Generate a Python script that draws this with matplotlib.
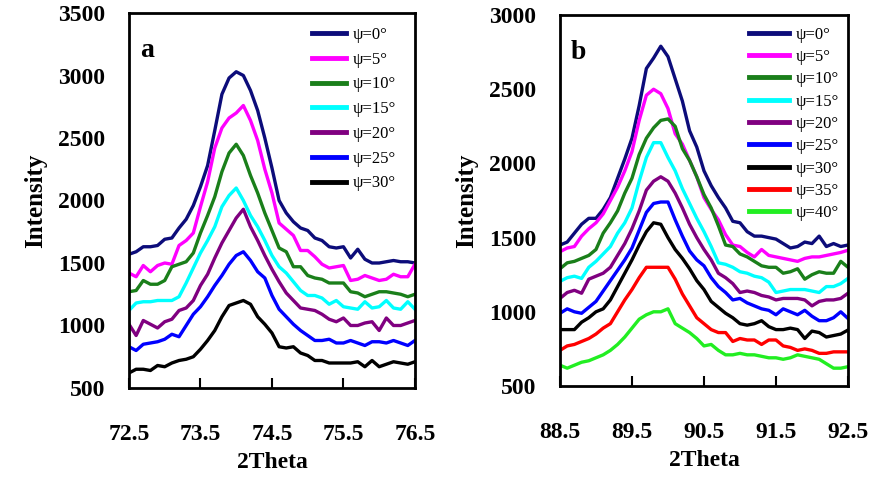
import matplotlib
matplotlib.use("Agg")
import matplotlib.pyplot as plt
import numpy as np

# ---- panel a : 2Theta 72.5 - 76.5 ----
two_theta_a = np.linspace(72.5, 76.5, 41)
a_psi0 = [1570, 1590, 1630, 1630, 1640, 1690, 1700, 1780, 1850, 1960, 2110, 2280, 2560, 2850,
          2980, 3030, 3000, 2880, 2720, 2500, 2260, 2000, 1900, 1830, 1780, 1760, 1700, 1680,
          1630, 1620, 1630, 1540, 1610, 1530, 1500, 1500, 1510, 1520, 1510, 1510, 1500]
a_psi5 = [1420, 1390, 1480, 1430, 1480, 1500, 1490, 1640, 1680, 1740, 1950, 2150, 2420, 2580,
          2660, 2700, 2760, 2640, 2480, 2250, 2060, 1820, 1770, 1720, 1600, 1600, 1550, 1490,
          1460, 1470, 1480, 1360, 1370, 1400, 1380, 1360, 1370, 1410, 1390, 1390, 1490]
a_psi10 = [1270, 1280, 1360, 1330, 1330, 1360, 1470, 1490, 1510, 1580, 1740, 1880, 2030, 2230,
           2380, 2450, 2360, 2200, 2060, 1900, 1760, 1620, 1590, 1470, 1470, 1400, 1380, 1370,
           1340, 1340, 1340, 1270, 1260, 1230, 1250, 1270, 1270, 1260, 1250, 1230, 1250]
a_psi15 = [1120, 1180, 1190, 1190, 1200, 1200, 1200, 1230, 1340, 1460, 1580, 1680, 1790, 1950,
           2040, 2100, 2000, 1880, 1790, 1680, 1560, 1470, 1420, 1350, 1280, 1240, 1240, 1220,
           1170, 1200, 1150, 1140, 1130, 1190, 1140, 1150, 1200, 1140, 1130, 1190, 1130]
a_psi20 = [1010, 920, 1040, 1010, 980, 1030, 1050, 1120, 1140, 1200, 1320, 1410, 1540, 1660,
           1760, 1860, 1930, 1790, 1680, 1560, 1450, 1350, 1260, 1200, 1140, 1130, 1120, 1090,
           1050, 1030, 1060, 1000, 1000, 1020, 1030, 960, 1060, 1000, 1000, 1020, 1040]
a_psi25 = [830, 800, 850, 860, 870, 890, 930, 910, 1000, 1090, 1150, 1230, 1320, 1400,
           1490, 1560, 1590, 1520, 1430, 1380, 1240, 1130, 1070, 1010, 960, 920, 880, 880,
           890, 860, 860, 880, 860, 840, 870, 870, 860, 880, 860, 840, 880]
a_psi30 = [620, 650, 650, 640, 680, 670, 700, 720, 730, 750, 810, 880, 960, 1070,
           1160, 1180, 1200, 1170, 1070, 1010, 940, 830, 820, 830, 780, 760, 720, 720,
           700, 700, 700, 700, 710, 670, 720, 670, 690, 710, 700, 690, 710]

# ---- panel b : 2Theta 88.5 - 92.5 ----
two_theta_b = np.linspace(88.5, 92.5, 41)
b_psi0 = [1450, 1470, 1530, 1590, 1630, 1630, 1690, 1770, 1900, 2030, 2170, 2390, 2640, 2710,
          2790, 2720, 2570, 2420, 2220, 2110, 1950, 1850, 1770, 1700, 1610, 1600, 1540, 1510,
          1510, 1500, 1490, 1460, 1430, 1440, 1470, 1460, 1510, 1440, 1460, 1440, 1450]
b_psi5 = [1405, 1430, 1440, 1510, 1560, 1600, 1660, 1750, 1840, 1950, 2080, 2290, 2460, 2500,
          2470, 2370, 2200, 2130, 2020, 1910, 1770, 1690, 1620, 1520, 1450, 1440, 1400, 1370,
          1420, 1380, 1370, 1360, 1350, 1340, 1360, 1370, 1370, 1380, 1390, 1400, 1415]
b_psi10 = [1290, 1330, 1340, 1360, 1380, 1420, 1530, 1600, 1680, 1800, 1900, 2060, 2170, 2240,
           2290, 2300, 2250, 2100, 2020, 1910, 1790, 1700, 1580, 1450, 1440, 1390, 1370, 1340,
           1310, 1300, 1300, 1260, 1270, 1290, 1220, 1250, 1270, 1260, 1260, 1340, 1300]
b_psi15 = [1205, 1230, 1240, 1225, 1300, 1340, 1390, 1440, 1530, 1600, 1700, 1880, 2040, 2140,
           2140, 2040, 1950, 1830, 1730, 1630, 1540, 1440, 1330, 1320, 1300, 1270, 1260, 1240,
           1230, 1200, 1130, 1140, 1150, 1150, 1150, 1140, 1130, 1170, 1170, 1190, 1225]
b_psi20 = [1090, 1130, 1145, 1125, 1220, 1240, 1260, 1300, 1380, 1460, 1560, 1680, 1820, 1880,
           1910, 1880, 1800, 1700, 1590, 1500, 1420, 1350, 1260, 1230, 1190, 1130, 1140, 1130,
           1110, 1100, 1080, 1090, 1090, 1090, 1080, 1040, 1070, 1080, 1080, 1090, 1125]
b_psi25 = [990, 1020, 1000, 990, 1030, 1070, 1140, 1210, 1280, 1350, 1430, 1550, 1670, 1730,
           1740, 1740, 1620, 1510, 1410, 1350, 1310, 1230, 1170, 1130, 1080, 1090, 1060, 1040,
           1020, 1010, 980, 1020, 1000, 980, 1010, 970, 940, 940, 960, 1000, 955]
b_psi30 = [880, 880, 880, 930, 960, 1000, 1020, 1080, 1170, 1260, 1350, 1450, 1540, 1600,
           1590, 1500, 1420, 1360, 1290, 1210, 1150, 1070, 1030, 990, 960, 920, 910, 920,
           940, 900, 880, 880, 890, 880, 820, 870, 860, 830, 840, 850, 877]
b_psi35 = [740, 770, 780, 800, 820, 850, 890, 920, 1000, 1080, 1150, 1230, 1300, 1300,
           1300, 1300, 1220, 1120, 1040, 960, 920, 880, 860, 860, 800, 820, 810, 810,
           780, 810, 810, 770, 760, 740, 750, 740, 720, 720, 730, 730, 730]
b_psi40 = [640, 620, 640, 660, 670, 690, 710, 740, 780, 830, 890, 950, 980, 1000,
           1000, 1020, 920, 890, 860, 820, 770, 780, 740, 710, 710, 720, 710, 710,
           700, 690, 690, 680, 690, 710, 700, 690, 680, 650, 620, 620, 630]

psi_labels_a = ["ψ=0°", "ψ=5°", "ψ=10°", "ψ=15°", "ψ=20°", "ψ=25°", "ψ=30°"]
psi_labels_b = psi_labels_a + ["ψ=35°", "ψ=40°"]
colors = ["#0c0c7a", "#ff00ff", "#1a7f1a", "#00ffff", "#800080", "#0000ff",
          "#000000", "#ff0000", "#22ee22"]

series_a = [a_psi0, a_psi5, a_psi10, a_psi15, a_psi20, a_psi25, a_psi30]
series_b = [b_psi0, b_psi5, b_psi10, b_psi15, b_psi20, b_psi25, b_psi30, b_psi35, b_psi40]

plt.rcParams["font.family"] = ["Liberation Serif", "DejaVu Serif"]

fig = plt.figure(figsize=(8.78, 4.78), dpi=100)
ax_a = fig.add_axes([0.1469, 0.1883, 0.3257, 0.7845])
ax_b = fig.add_axes([0.6378, 0.1925, 0.328, 0.776])


def style_panel(ax, x, series, labels, xlim, xticks, ylim, yticks, letter,
                leg_anchor, spacing, handle_len):
    for ys, lab, col in zip(series, labels, colors):
        ax.plot(x, ys, color=col, lw=2.4, label=lab, solid_joinstyle="round")
    ax.set_xlim(*xlim)
    ax.set_ylim(*ylim)
    ax.set_xticks(xticks)
    ax.set_xticklabels([f"{t:.1f}" for t in xticks])
    ax.set_yticks(yticks)
    for sp in ax.spines.values():
        sp.set_linewidth(2.0)
    ax.tick_params(axis="x", direction="in", length=7, width=1.5, pad=26,
                   labelsize=17)
    ax.tick_params(axis="y", length=0, pad=17, labelsize=17)
    for lbl in ax.get_xticklabels() + ax.get_yticklabels():
        lbl.set_fontweight("bold")
    ax.set_xlabel("2Theta", fontsize=17, fontweight="bold", labelpad=5)
    ax.set_ylabel("Intensity", fontsize=18, fontweight="bold", labelpad=8)
    ax.text(0.063, 0.9, letter, transform=ax.transAxes, fontsize=20,
            fontweight="bold", ha="center", va="center")
    leg = ax.legend(loc="upper left", bbox_to_anchor=leg_anchor, frameon=False,
                    fontsize=12, handlelength=handle_len, handletextpad=0.4,
                    labelspacing=spacing, borderpad=0, borderaxespad=0)
    for h in leg.get_lines():
        h.set_linewidth(3.5)


style_panel(ax_a, two_theta_a, series_a, psi_labels_a, (72.5, 76.5),
            [72.5, 73.5, 74.5, 75.5, 76.5], (500, 3500),
            [500, 1000, 1500, 2000, 2500, 3000, 3500], "a",
            (0.641, 0.963), 0.525, 2.0)
style_panel(ax_b, two_theta_b, series_b, psi_labels_b, (88.5, 92.5),
            [88.5, 89.5, 90.5, 91.5, 92.5], (500, 3000),
            [500, 1000, 1500, 2000, 2500, 3000], "b",
            (0.658, 0.969), 0.38, 2.4)

fig.savefig("out.png", dpi=100)
